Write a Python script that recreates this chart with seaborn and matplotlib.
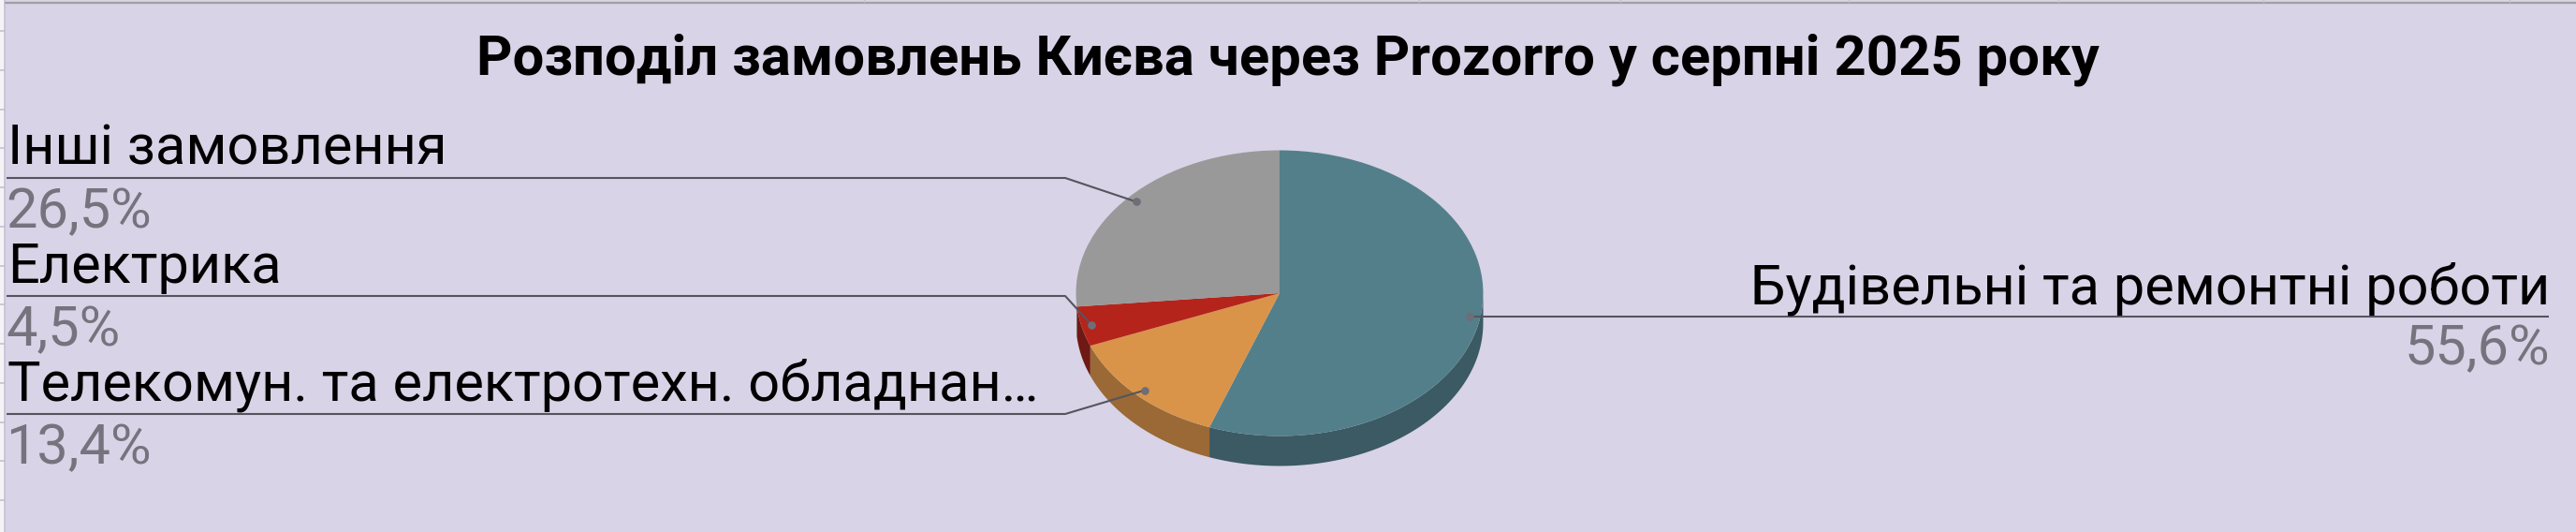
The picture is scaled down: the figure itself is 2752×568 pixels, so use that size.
import numpy as np
import pandas as pd
import matplotlib
matplotlib.use("Agg")
import matplotlib.pyplot as plt
import seaborn as sns

# ---------------- data ----------------
categories = [
    "Будівельні та ремонтні роботи",
    "Телекомун. та електротехн. обладнан…",
    "Електрика",
    "Інші замовлення",
]
shares = [55.6, 13.4, 4.5, 26.5]
pct_labels = ["55,6%", "13,4%", "4,5%", "26,5%"]
title_text = "Розподіл замовлень Києва через Prozorro у серпні 2025 року"

top_colors = ["#537F8A", "#D9944A", "#B5241B", "#999999"]
side_colors = ["#3B5A63", "#9A6935", "#6E1913", "#6A6A6A"]

df = pd.DataFrame({"category": categories, "share": shares, "pct": pct_labels})

# ---------------- style ----------------
sns.set_theme(style="white")
plt.rcParams["font.family"] = ["Roboto", "DejaVu Sans"]

W, H = 2752, 568
BG = "#D8D3E6"
fig = plt.figure(figsize=(W / 100, H / 100), dpi=100)
fig.patch.set_facecolor(BG)

# pie geometry (pixels, y measured from top)
cx, cy, a, b, depth = 1367, 313, 217.5, 152.5, 32
du = depth / b
ax_p = fig.add_axes([(cx - a) / W, (H - (cy + b + depth)) / H, 2 * a / W, (2 * b + depth) / H])
ax_p.pie(df["share"], colors=top_colors, startangle=90, counterclock=False,
         wedgeprops=dict(linewidth=0), frame=False)
ax_p.set_aspect("auto")
ax_p.set_xlim(-1, 1)
ax_p.set_ylim(-1 - du, 1)
ax_p.axis("off")

# side wall of the 3D pie
total = df["share"].sum()
cum = np.concatenate([[0], np.cumsum(df["share"])])
starts = 90 - 360 * cum[:-1] / total
ends = 90 - 360 * cum[1:] / total
mids = (starts + ends) / 2
for s, e, col in zip(starts, ends, side_colors):
    lo, hi = max(e, -180), min(s, 0)
    if lo < hi:
        t = np.radians(np.linspace(lo, hi, 200))
        xs = np.concatenate([np.cos(t), np.cos(t[::-1])])
        ys = np.concatenate([np.sin(t), np.sin(t[::-1]) - du])
        ax_p.fill(xs, ys, color=col, lw=0, zorder=0.5)

# ---------------- overlay in pixel coordinates ----------------
ov = fig.add_axes([0, 0, 1, 1])
ov.set_xlim(0, W)
ov.set_ylim(H, 0)
ov.axis("off")

# spreadsheet frame decorations
ov.add_patch(plt.Rectangle((0, 0), 4.5, H, color="#F4F4F6", lw=0))
ov.plot([5, 5], [0, H], color="#C5C0D3", lw=1.2)
ov.plot([6, W], [3, 3], color="#A0A0A0", lw=1.6)
for yy in np.arange(33, H, 41.75):
    ov.plot([0, 4.5], [yy, yy], color="#C5C0D3", lw=1.2)
for xx in [923, 1516, 1731, 1975, 2199, 2418, 2681]:
    ov.plot([xx, xx], [0, 2.2], color="#C5C0D3", lw=1.0)

def to_px(x, y):
    d = ax_p.transData.transform((x, y))
    return ov.transData.inverted().transform(d)

LINE = "#55555E"
DOT = "#6E6E78"
PCT = "#76737E"
FS = 42.8

# label layout: (side, leader y)
layout = {
    "Будівельні та ремонтні роботи": ("right", None),
    "Телекомун. та електротехн. обладнан…": ("left", 442),
    "Електрика": ("left", 316),
    "Інші замовлення": ("left", 190),
}

for i, row in df.iterrows():
    m = np.radians(mids[i])
    dx, dy = to_px(0.95 * np.cos(m), 0.95 * np.sin(m))
    side, ly = layout[row["category"]]
    if side == "left":
        ov.plot([7, 1138, dx], [ly, ly, dy], color=LINE, lw=1.5, solid_capstyle="butt")
        ov.text(8, ly - 14, row["category"], fontsize=FS, color="#000000", ha="left", va="baseline")
        ov.text(6, ly + 53, row["pct"], fontsize=FS, color=PCT, ha="left", va="baseline")
    else:
        ov.plot([dx, 2723], [dy, dy], color=LINE, lw=1.5, solid_capstyle="butt")
        ov.text(2724, dy - 14, row["category"], fontsize=FS, color="#000000", ha="right", va="baseline")
        ov.text(2724, dy + 51, row["pct"], fontsize=FS, color=PCT, ha="right", va="baseline")
    ov.plot([dx], [dy], marker="o", ms=6.2, color=DOT, mew=0)

ov.text(1376, 80, title_text, fontsize=43, fontweight="bold", color="#000000",
        ha="center", va="baseline")

fig.savefig("out.png", dpi=100, facecolor=BG)
